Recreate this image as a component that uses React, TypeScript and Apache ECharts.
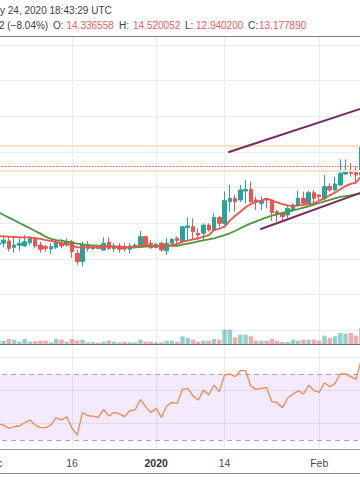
import React, { useEffect, useRef } from 'react';
import * as echarts from 'echarts';

// ---- data ----
const START = Date.UTC(2019, 11, 1);
const DATES: string[] = Array.from({ length: 71 }, (_, i) =>
  new Date(START + i * 86400000).toISOString().slice(0, 10)
);

const OPEN = [
  4.95, 4.80, 4.87, 5.00, 4.64, 4.75, 4.72, 4.90, 5.09, 4.77,
  4.68, 4.55, 4.64, 4.87, 4.77, 4.96, 4.30, 3.84, 4.81, 4.58,
  4.68, 4.49, 4.92, 4.57, 4.72, 4.68, 4.53, 4.68, 4.77, 5.24,
  4.87, 4.64, 4.87, 4.45, 4.87, 5.15, 4.96, 5.76, 5.80, 5.43,
  5.43, 5.89, 5.61, 6.32, 5.99, 7.20, 7.39, 7.30, 7.80, 7.90,
  7.30, 7.11, 7.39, 7.30, 6.64, 6.55, 6.46, 6.74, 7.02, 7.39,
  7.11, 7.71, 7.58, 7.39, 8.05, 7.86, 8.14, 8.76, 8.94, 8.83,
  8.70,
];
const CLOSE = [
  4.80, 4.85, 5.05, 4.58, 4.77, 4.87, 4.96, 5.13, 4.72, 4.53,
  4.58, 4.68, 4.92, 4.72, 4.96, 4.40, 3.84, 4.81, 4.58, 4.68,
  4.58, 4.87, 4.58, 4.72, 4.53, 4.55, 4.72, 4.77, 5.24, 4.77,
  4.62, 4.81, 4.49, 4.87, 5.09, 5.02, 5.80, 5.84, 5.52, 5.33,
  5.89, 5.61, 6.32, 5.99, 7.26, 7.39, 7.20, 7.86, 7.90, 7.20,
  7.20, 7.26, 7.30, 6.59, 6.51, 6.36, 6.83, 7.02, 7.39, 7.11,
  7.71, 7.39, 7.49, 8.05, 7.86, 8.20, 8.80, 8.94, 8.80, 8.70,
  10.29,
];
const LOW = [
  4.70, 4.70, 4.64, 4.40, 4.34, 4.45, 4.68, 4.77, 4.58, 4.34,
  4.40, 4.27, 4.55, 4.58, 4.68, 4.06, 3.65, 3.56, 4.40, 4.49,
  4.53, 4.45, 4.49, 4.40, 4.34, 4.40, 4.30, 4.58, 4.68, 4.68,
  4.55, 4.58, 4.40, 4.21, 4.77, 4.77, 4.87, 5.05, 5.05, 5.05,
  5.05, 5.52, 5.52, 5.80, 5.89, 6.64, 6.64, 7.20, 7.11, 7.15,
  6.74, 6.74, 6.83, 6.14, 6.08, 6.14, 6.27, 6.64, 6.92, 6.96,
  7.02, 7.02, 7.30, 7.30, 7.77, 7.77, 8.08, 8.70, 8.61, 8.23,
  8.65,
];
const HIGH = [
  5.05, 5.00, 5.28, 5.24, 5.24, 5.15, 5.33, 5.24, 5.24, 4.96,
  4.77, 4.87, 5.05, 5.09, 5.15, 5.05, 4.49, 4.96, 5.00, 4.77,
  4.77, 5.20, 5.20, 4.87, 4.87, 4.87, 4.87, 4.87, 5.56, 5.28,
  5.05, 4.90, 4.96, 5.15, 5.15, 5.24, 5.84, 6.32, 6.27, 5.71,
  5.99, 5.99, 6.55, 6.40, 7.77, 8.14, 7.58, 8.14, 8.42, 8.33,
  7.49, 7.49, 7.42, 7.35, 6.74, 6.64, 7.02, 7.11, 7.82, 7.77,
  7.82, 7.86, 7.64, 8.70, 8.23, 8.61, 9.58, 9.58, 9.36, 9.17,
  10.48,
];
const MA_FAST = [
  5.31, 5.28, 5.26, 5.24, 5.22, 5.20, 5.20, 5.20, 5.16, 5.11,
  5.05, 5.00, 4.94, 4.88, 4.83, 4.75, 4.64, 4.64, 4.64, 4.64,
  4.64, 4.68, 4.68, 4.68, 4.66, 4.64, 4.64, 4.66, 4.77, 4.77,
  4.72, 4.72, 4.68, 4.72, 4.77, 4.83, 4.96, 5.02, 5.09, 5.15,
  5.24, 5.33, 5.61, 5.69, 5.80, 6.14, 6.40, 6.64, 6.89, 7.07,
  7.20, 7.26, 7.37, 7.26, 7.17, 7.07, 7.00, 6.96, 7.00, 7.02,
  7.05, 7.11, 7.26, 7.39, 7.56, 7.71, 7.90, 8.08, 8.20, 8.27,
  8.65,
];
const MA_SLOW = [
  6.74, 6.61, 6.46, 6.31, 6.16, 6.01, 5.86, 5.71, 5.56, 5.41,
  5.24, 5.11, 5.05, 5.02, 4.96, 4.90, 4.85, 4.81, 4.77, 4.75,
  4.73, 4.72, 4.70, 4.68, 4.66, 4.64, 4.64, 4.64, 4.66, 4.68,
  4.68, 4.70, 4.70, 4.72, 4.72, 4.73, 4.79, 4.85, 4.90, 4.98,
  5.03, 5.09, 5.15, 5.24, 5.33, 5.43, 5.56, 5.71, 5.86, 5.99,
  6.10, 6.21, 6.32, 6.42, 6.49, 6.57, 6.64, 6.72, 6.79, 6.87,
  6.94, 7.04, 7.13, 7.22, 7.30, 7.39, 7.47, 7.52, 7.56, 7.62,
  7.67,
];
const VOLUME = [
  12, 10, 10, 15, 13, 7, 15, 7, 8, 10,
  10, 5, 15, 13, 7, 15, 11, 13, 5, 6,
  4, 7, 10, 7, 5, 7, 5, 5, 13, 7,
  7, 5, 5, 10, 10, 7, 23, 18, 13, 7,
  10, 10, 15, 13, 43, 43, 20, 28, 28, 23,
  10, 10, 10, 15, 10, 6, 6, 13, 10, 13,
  13, 13, 10, 25, 18, 23, 33, 31, 33, 25,
  48,
];
const RSI = [
  41.1, 39.7, 39.1, 37.1, 38.1, 38.5, 40.5, 42.1, 39.1, 37.5,
  37.5, 39.1, 43.5, 42.1, 44.1, 37.1, 33.0, 46.8, 44.7, 44.5,
  43.7, 48.6, 44.5, 46.8, 45.8, 44.1, 47.8, 48.2, 54.6, 50.2,
  46.6, 49.2, 43.7, 50.6, 52.8, 52.2, 60.7, 61.3, 56.7, 54.2,
  60.3, 57.3, 63.3, 59.3, 69.4, 70.0, 68.4, 72.0, 72.0, 62.7,
  60.7, 61.3, 61.7, 53.2, 52.6, 49.6, 55.3, 57.7, 59.9, 57.9,
  63.3, 59.9, 58.9, 64.7, 62.3, 64.3, 70.0, 70.0, 68.4, 66.8,
  78.5,
];
// trend lines: [candle index, price]
const TREND_UPPER = [[44.85, 9.99], [70, 12.43]];
const TREND_LOWER = [[50.93, 5.67], [70, 7.72]];
// horizontal levels
const LEVEL_BANDS = [10.35, 8.93];
const LEVEL_LAST = 9.21;
// RSI levels
const RSI_BAND = [30, 70];
const RSI_GRID = [80, 60, 40];
// time axis ticks
const TICK_DATES = ['2019-12-01', '2019-12-16', '2020-01-01', '2020-01-14', '2020-02-01'];
const TICK_LABELS = ['Dec', '16', '2020', '14', 'Feb'];
// header legend
const HEADER_LINE1 = 'y 24, 2020 18:43:29 UTC';
const HEADER_CHANGE = '2 (\u22128.04%)';
const HEADER_KEYS = ['O:', 'H:', 'L:', 'C:'];
const HEADER_VALUES = ['14.336558', '14.520052', '12.940200', '13.177890'];

const FONT = '"Liberation Sans", Arial, sans-serif';
const UP = '#26a69a';
const DOWN = '#ef5350';
const GRIDC = '#e6edf3';

export default function App() {
  const ref = useRef<HTMLDivElement>(null);
  useEffect(() => {
    document.body.style.margin = '0';
    const chart = echarts.init(ref.current!, null, { renderer: 'svg' });
    const L = -6.9;
    const R = -1.3;
    const grid = (top: number, height: number) => ({
      left: L, right: R, top, height, containLabel: false, outerBoundsMode: 'none',
    });
    const hiddenCat = (gi: number) => ({
      gridIndex: gi, type: 'category', data: DATES, boundaryGap: false, show: false,
    });
    const isTick = (_i: number, v: string) => TICK_DATES.indexOf(v) >= 0;

    const keyX = [53, 119, 185, 248];
    const valX = [66.5, 133, 196, 259];
    const headerGraphics: any[] = [
      { type: 'text', x: 0, y: 10.5, style: { text: HEADER_LINE1, fill: '#3d3d3d', fontSize: 10, fontFamily: FONT, verticalAlign: 'middle' } },
      { type: 'text', x: -1, y: 25, style: { text: HEADER_CHANGE, fill: '#3d3d3d', fontSize: 10, fontFamily: FONT, verticalAlign: 'middle' } },
    ];
    HEADER_KEYS.forEach((k, i) => {
      headerGraphics.push({ type: 'text', x: keyX[i], y: 25, style: { text: k, fill: '#3d3d3d', fontSize: 10, fontFamily: FONT, verticalAlign: 'middle' } });
      headerGraphics.push({ type: 'text', x: valX[i], y: 25, style: { text: HEADER_VALUES[i], fill: '#f05a5a', fontSize: 10, fontFamily: FONT, verticalAlign: 'middle' } });
    });
    const sep = (y: number, c: string) => ({
      type: 'line', shape: { x1: 0, y1: y, x2: 360, y2: y }, style: { stroke: c, lineWidth: 1 }, z: 10,
    });

    const option: any = {
      animation: false,
      backgroundColor: '#ffffff',
      textStyle: { fontFamily: FONT },
      grid: [grid(45, 285), grid(300, 44), grid(345, 104), grid(37, 412)],
      xAxis: [
        hiddenCat(0),
        hiddenCat(1),
        hiddenCat(2),
        {
          gridIndex: 3, type: 'category', data: DATES, boundaryGap: false,
          axisLine: { show: false }, axisTick: { show: false },
          axisLabel: {
            interval: isTick, margin: 8, fontSize: 10.5, color: '#4a4a4a', fontFamily: FONT,
            formatter: (v: string) => {
              const t = TICK_LABELS[TICK_DATES.indexOf(v)];
              return t === '2020' ? '{b|2020}' : t;
            },
            rich: { b: { fontWeight: 'bold', fontSize: 10.5, color: '#333', fontFamily: FONT } },
          },
          splitLine: { show: true, interval: isTick, lineStyle: { color: GRIDC, width: 1 } },
        },
        { gridIndex: 0, type: 'value', min: 0, max: DATES.length - 1, show: false },
      ],
      yAxis: [
        {
          gridIndex: 0, type: 'value', min: 0, max: 16, interval: 2,
          axisLine: { show: false }, axisTick: { show: false }, axisLabel: { show: false },
          splitLine: { show: true, lineStyle: { color: GRIDC, width: 1 } },
        },
        { gridIndex: 1, type: 'value', min: 0, max: 132, show: false, splitLine: { show: false } },
        { gridIndex: 2, type: 'value', min: 24.55, max: 87.58, show: false, splitLine: { show: false } },
        { gridIndex: 3, type: 'value', show: false, splitLine: { show: false } },
      ],
      graphic: [
        ...headerGraphics,
        sep(36.5, '#7f7f7f'),
        sep(344.5, '#6f6f6f'),
        sep(449.5, '#9a9a9a'),
        sep(473.5, '#8a8a8a'),
      ],
      series: [
        {
          type: 'candlestick', xAxisIndex: 0, yAxisIndex: 0, barWidth: 4,
          data: OPEN.map((o, i) => [o, CLOSE[i], LOW[i], HIGH[i]]),
          itemStyle: { color: UP, color0: DOWN, borderColor: UP, borderColor0: DOWN, borderWidth: 1 },
          markLine: {
            silent: true, symbol: ['none', 'none'], label: { show: false }, animation: false,
            data: [
              ...LEVEL_BANDS.map((v) => ({ yAxis: v, lineStyle: { color: '#fce3cb', width: 2, type: 'solid' } })),
              { yAxis: LEVEL_LAST, lineStyle: { color: '#f05a5a', width: 1, type: [1.5, 1.5] } },
            ],
          },
        },
        {
          type: 'line', xAxisIndex: 0, yAxisIndex: 0, data: MA_SLOW, showSymbol: false,
          lineStyle: { color: '#4a9a3f', width: 1.8 }, z: 4,
        },
        {
          type: 'line', xAxisIndex: 0, yAxisIndex: 0, data: MA_FAST, showSymbol: false,
          lineStyle: { color: '#f2514c', width: 1.8 }, z: 4,
        },
        {
          type: 'line', xAxisIndex: 4, yAxisIndex: 0, data: TREND_UPPER, showSymbol: false,
          lineStyle: { color: '#7b2a5c', width: 2, cap: 'round' }, z: 5,
        },
        {
          type: 'line', xAxisIndex: 4, yAxisIndex: 0, data: TREND_LOWER, showSymbol: false,
          lineStyle: { color: '#7b2a5c', width: 2, cap: 'round' }, z: 5,
        },
        {
          type: 'bar', xAxisIndex: 1, yAxisIndex: 1, barWidth: 4.4,
          data: VOLUME.map((v, i) => ({
            value: v,
            itemStyle: { color: CLOSE[i] >= OPEN[i] ? 'rgba(38,166,154,0.5)' : 'rgba(239,83,80,0.5)' },
          })),
        },
        {
          type: 'line', xAxisIndex: 2, yAxisIndex: 2, data: RSI, showSymbol: false,
          lineStyle: { color: '#f5894d', width: 1.3 }, z: 5,
          markArea: {
            silent: true,
            itemStyle: { color: 'rgba(155,80,240,0.12)' },
            data: [[{ yAxis: RSI_BAND[0] }, { yAxis: RSI_BAND[1] }]],
          },
          markLine: {
            silent: true, symbol: ['none', 'none'], label: { show: false }, animation: false,
            data: [
              ...RSI_GRID.map((v) => ({ yAxis: v, lineStyle: { color: v === 80 ? GRIDC : 'rgba(150,140,200,0.18)', width: 1, type: 'solid' } })),
              ...RSI_BAND.map((v) => ({ yAxis: v, lineStyle: { color: '#a8a8a8', width: 1, type: [5, 4] } })),
            ],
          },
        },
      ],
    };
    chart.setOption(option);
    return () => chart.dispose();
  }, []);
  return (
    <div
      ref={ref}
      style={{ position: 'fixed', left: 0, top: 0, width: 360, height: 504, background: '#fff' }}
    />
  );
}
